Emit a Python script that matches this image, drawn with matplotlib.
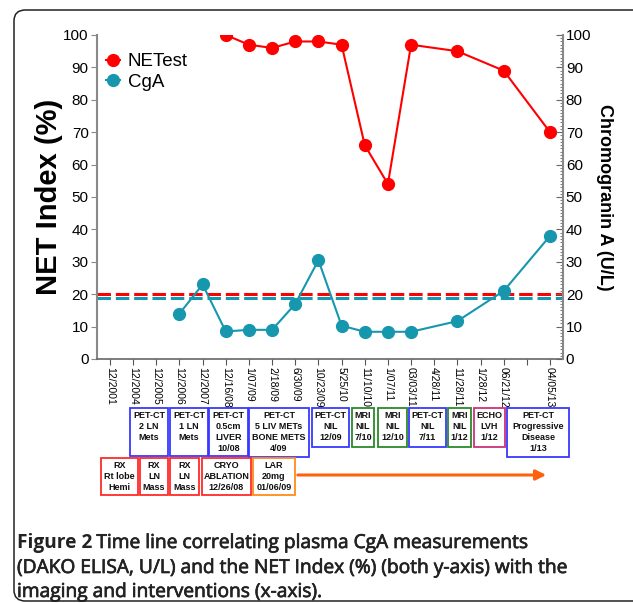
import numpy as np
import matplotlib
matplotlib.use('Agg')
import matplotlib.pyplot as plt
import matplotlib.patheffects as pe
from matplotlib.patches import Rectangle, FancyBboxPatch, FancyArrowPatch
from matplotlib.ticker import MultipleLocator

W, H = 633, 603
nan = np.nan

# time points (x-axis categories), index 18 has no label
dates = ['12/2001', '12/2004', '12/2005', '12/2006', '12/2007', '12/16/08',
         '1/07/09', '2/18/09', '6/30/09', '10/23/09', '5/25/10', '11/10/10',
         '1/07/11', '03/03/11', '4/28/11', '11/28/11', '1/28/12', '06/21/12',
         '', '04/05/13']

netest = [nan, nan, nan, nan, nan, 100, 97, 96, 98, 98, 97, 66, 54, 97,
          nan, 95, nan, 89, nan, 70]
cga = [nan, nan, nan, 14, 23, 8.5, 9, 9, 17, 30.5, 10.3, 8.4, 8.4, 8.4,
       nan, 11.7, nan, 21, nan, 38]

netest_cutoff = 20.1
cga_cutoff = 18.9

# imaging (top row) and interventions (bottom row)
imaging = ['PET-CT\n2 LN\nMets', 'PET-CT\n1 LN\nMets', 'PET-CT\n0.5cm\nLIVER\n10/08',
           'PET-CT\n5 LIV METs\nBONE METS\n4/09', 'PET-CT\nNIL\n12/09', 'MRI\nNIL\n7/10',
           'MRI\nNIL\n12/10', 'PET-CT\nNIL\n7/11', 'MRI\nNIL\n1/12', 'ECHO\nLVH\n1/12',
           'PET-CT\nProgressive\nDisease\n1/13']
interventions = ['RX\nRt lobe\nHemi', 'RX\nLN\nMass', 'RX\nLN\nMass',
                 'CRYO\nABLATION\n12/26/08', 'LAR\n20mg\n01/06/09']

RED = '#FF0000'
TEAL = '#1797AE'
BLUE = '#3838FF'
GREEN = '#2A8A2A'
BRED = '#FF2A2A'
ORANGE = '#FF8C1A'
PINK = '#CC3377'

# box layout in pixels: x0, x1, y0, y1, colour
imaging_boxes = [(130, 168, 408, 456, BLUE), (170, 208, 408, 456, BLUE),
                 (209, 248, 408, 456, BLUE), (249, 309, 408, 457, BLUE),
                 (312, 349, 408, 447, BLUE), (352, 374, 408, 447, GREEN),
                 (378, 407, 408, 447, GREEN), (409, 446, 408, 447, BLUE),
                 (448, 471, 408, 447, GREEN), (474, 505, 408, 447, PINK),
                 (507, 569, 408, 457, BLUE)]
interv_boxes = [(101, 138, 458, 495, BRED), (140, 168, 458, 495, BRED),
                (170, 199, 458, 495, BRED), (202, 251, 458, 495, BRED),
                (253, 295, 458, 495, ORANGE)]

plt.rcParams['font.family'] = ['Liberation Sans', 'DejaVu Sans']

fig = plt.figure(figsize=(W / 100, H / 100), dpi=100)


def fx(x):
    return x / W


def fy(y):
    return 1 - y / H


# outer frame
frame = FancyBboxPatch((fx(14), fy(601)), fx(660) - fx(14), fy(10) - fy(601),
                       boxstyle='round,pad=0,rounding_size=0.018',
                       transform=fig.transFigure, facecolor='white',
                       edgecolor='#222222', linewidth=1.1, zorder=0)
fig.add_artist(frame)

ax = fig.add_axes([fx(97), fy(359), fx(563) - fx(97), fy(35) - fy(359)])
ax.patch.set_alpha(0)
x = np.arange(len(dates))
netest = np.array(netest)
cga = np.array(cga)

ax.axhline(cga_cutoff, color=TEAL, lw=2.2, dashes=(4.4, 1.6), zorder=2)
ax.axhline(netest_cutoff, color=RED, lw=2.2, dashes=(4.4, 1.6), zorder=2)
m1 = ~np.isnan(netest)
m2 = ~np.isnan(cga)
ax.plot(x[m1], netest[m1], color=RED, lw=1.5, marker='o', ms=8.5, label='NETest', zorder=3)
ax.plot(x[m2], cga[m2], color=TEAL, lw=1.5, marker='o', ms=8.5, label='CgA', zorder=3)

ax.set_xlim(-0.56, 19.56)
ax.set_ylim(0, 100)
ax.set_xticks(x)
ax.set_xticklabels(dates, rotation=270, fontsize=7.5)
ax.yaxis.set_major_locator(MultipleLocator(10))
ax.tick_params(axis='y', labelsize=11, length=4, color='#888888', pad=2)
ax.tick_params(axis='x', length=4, color='#555555', pad=2)
for s in ['top', 'right']:
    ax.spines[s].set_visible(False)
ax.spines['left'].set_color('#888888')
ax.spines['left'].set_linewidth(1.5)
ax.spines['bottom'].set_color('#666666')
ax.spines['bottom'].set_linewidth(1.2)
ax.set_ylabel('NET Index (%)', fontsize=21, fontweight='bold', labelpad=0)

ax2 = ax.twinx()
ax2.set_ylim(0, 100)
ax2.yaxis.set_major_locator(MultipleLocator(10))
ax2.yaxis.set_minor_locator(MultipleLocator(1))
ax2.tick_params(axis='y', which='major', direction='in', length=5, labelsize=11,
                color='#666666', pad=2)
ax2.tick_params(axis='y', which='minor', direction='in', length=2.5, color='#666666')
for s in ['top', 'left', 'bottom']:
    ax2.spines[s].set_visible(False)
ax2.spines['right'].set_color('#888888')
ax2.spines['right'].set_linewidth(1.5)
ax2.set_ylabel('Chromogranin A (U/L)', fontsize=13, fontweight='bold',
               rotation=270, labelpad=16)

leg = ax.legend(loc='upper left', bbox_to_anchor=(fx(106), fy(53)),
                bbox_transform=fig.transFigure, frameon=False, fontsize=13.5,
                handlelength=0.75, handletextpad=0.4, labelspacing=0.2,
                borderaxespad=0, borderpad=0)


def draw_boxes(layout, texts):
    for (x0, x1, y0, y1, col), txt in zip(layout, texts):
        fig.add_artist(Rectangle((fx(x0), fy(y1)), fx(x1) - fx(x0), fy(y0) - fy(y1),
                                 transform=fig.transFigure, fill=False,
                                 edgecolor=col, linewidth=1.3))
        fig.text(fx((x0 + x1) / 2), fy(y0 + 3), txt, ha='center', va='top',
                 fontsize=6.5, fontweight='bold', linespacing=1.3, color='#111111')


draw_boxes(imaging_boxes, imaging)
draw_boxes(interv_boxes, interventions)

arrow = FancyArrowPatch((fx(295), fy(475)), (fx(549), fy(475)),
                        transform=fig.transFigure, arrowstyle='-|>,head_length=6,head_width=3',
                        color='#FF6010', linewidth=2.2, mutation_scale=1)
fig.add_artist(arrow)

# caption
cap_font = ['Open Sans', 'DejaVu Sans']
cap_size = 13.8
thick = [pe.withStroke(linewidth=0.5, foreground='#222222')]
t1 = fig.text(fx(17), fy(548), 'Figure 2', fontsize=cap_size, fontweight='bold',
              family=cap_font, va='baseline', color='#222222')
fig.canvas.draw()
x1 = t1.get_window_extent(fig.canvas.get_renderer()).x1
fig.text((x1 + 4) / W, fy(548), 'Time line correlating plasma CgA measurements',
         fontsize=cap_size, family=cap_font, va='baseline',
         color='#222222', path_effects=thick)
fig.text(fx(17), fy(573), '(DAKO ELISA, U/L) and the NET Index (%) (both y-axis) with the',
         fontsize=cap_size, family=cap_font, va='baseline',
         color='#222222', path_effects=thick)
fig.text(fx(17), fy(597), 'imaging and interventions (x-axis).',
         fontsize=cap_size, family=cap_font, va='baseline',
         color='#222222', path_effects=thick)

fig.savefig('out.png', dpi=100)
